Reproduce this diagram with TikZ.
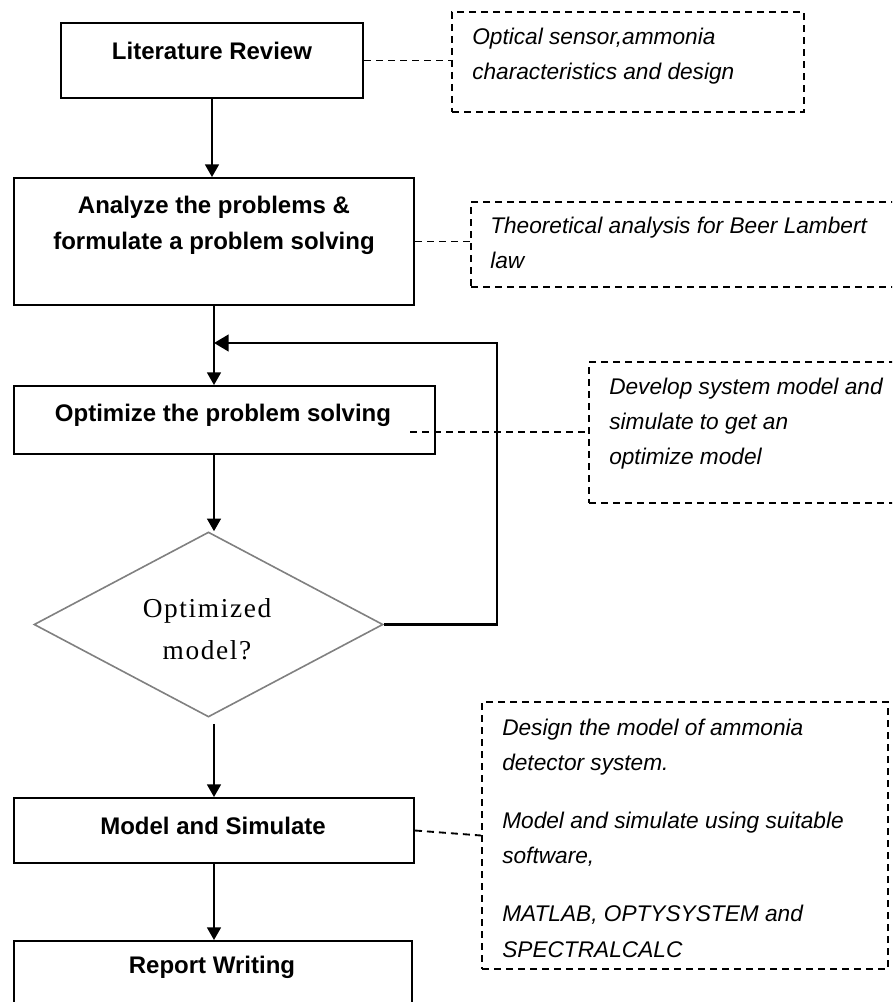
\documentclass[tikz,border=0pt]{standalone}
\usepackage{fontspec}
\setmainfont{Liberation Sans}
\newfontfamily\diafont{Liberation Serif}[LetterSpace=6]
\usetikzlibrary{arrows.meta,shapes.geometric}

\tikzset{
  stage/.style={draw, line width=1.5pt, inner sep=0pt},
  note/.style={draw, line width=1.4pt, dash pattern={on 5.25pt off 3.75pt}, inner sep=0pt},
  flow/.style={line width=1.2pt, -{Triangle[length=9.5pt,width=10.5pt]}},
  link/.style={line width=1.4pt, dash pattern={on 5.25pt off 3.75pt}},
  stagetext/.style={font=\fontsize{18}{27}\selectfont\bfseries, align=center},
  notetext/.style={font=\fontsize{17}{26.25}\selectfont\itshape, align=left, anchor=north west, inner sep=0pt},
}

\begin{document}
\begin{tikzpicture}[x=0.75pt,y=0.75pt,yscale=-1,xscale=1]
\path [use as bounding box, clip] (0,0) rectangle (892,1002);

%Shapes: stages
\draw (212,60.5) node (lit) [stage, minimum width=226.5pt, minimum height=56.25pt] {};
\draw (214,241.5) node (ana) [stage, minimum width=300pt, minimum height=95.25pt] {};
\draw (224.5,420) node (opt) [stage, minimum width=315.75pt, minimum height=51pt] {};
\draw (208.5,624.5) node (dec) [diamond, draw={rgb, 255:red, 128; green, 128; blue, 128}, line width=1.2pt, inner sep=0pt, minimum width=261.75pt, minimum height=138.75pt] {};
\draw (214,830.5) node (mod) [stage, minimum width=300pt, minimum height=48.75pt] {};
\draw (213,991) node (rep) [stage, minimum width=298.5pt, minimum height=75pt] {};

%Shapes: notes
\draw (628,62) node (n1) [note, minimum width=264pt, minimum height=75pt] {};
\draw (685.5,244.5) node (n2) [note, minimum width=321.75pt, minimum height=63.75pt] {};
\draw (744.5,432.5) node (n3) [note, minimum width=233.25pt, minimum height=105.75pt] {};
\draw (685,835.5) node (n4) [note, minimum width=304.5pt, minimum height=200.25pt] {};

%Straight Lines
\draw [flow] (lit.south) -- (lit.south |- ana.north);
\draw [flow] (ana.south) -- (ana.south |- opt.north);
\draw [flow] (ana.south |- opt.south) -- (ana.south |- dec.north);
\draw [flow, shorten <=4.5pt] (dec.south -| mod.north) -- (mod.north);
\draw [flow] (mod.south) -- (mod.south |- rep.north);
%Feedback
\coordinate (loop) at (497,343);
\draw [flow, line width=1.8pt, -{Triangle[length=11pt,width=12.5pt]}] (dec.east) -| (loop) -- (loop -| ana.south);

%Dashed Lines
\coordinate (optlink) at (410,432);
\draw [link] (lit.east) -- (lit.east -| n1.west);
\draw [link] (ana.east) -- (ana.east -| n2.west);
\draw [link] (optlink) -- (optlink -| n3.west);
\draw [link] (mod.east) -- (n4.west);

% Text Node
\draw (212,51) node (littext) [stagetext] {Literature Review};
% Text Node
\draw (214,225) node (anatext) [stagetext] {Analyze the problems \&\\formulate a problem solving};
% Text Node
\draw (223,415) node (opttext) [stagetext] {Optimize the problem solving};
% Text Node
\draw (207,629) node (dectext) [font=\diafont\fontsize{20.5}{31.5}\selectfont, align=center] {Optimized\\model?};
% Text Node
\draw (213,826) node (modtext) [stagetext] {Model and Simulate};
% Text Node
\draw (212,967) node (reptext) [stagetext] {Report Writing};

% Text Node
\draw (472,19.5) node (n1text) [notetext] {\strut Optical sensor,ammonia\\characteristics and design};
% Text Node
\draw (490,208.5) node (n2text) [notetext] {\strut Theoretical analysis for Beer Lambert\\law};
% Text Node
\draw (609,369.5) node (n3text) [notetext] {\strut Develop system model and\\simulate to get an\\optimize model};
% Text Node
\draw (502,710) node (n4text) [notetext, font=\fontsize{17}{26.5}\selectfont\itshape] {\strut Design the model of ammonia\\detector system.\\[17pt]Model and simulate using suitable\\software,\\[17pt]MATLAB, OPTYSYSTEM and\\SPECTRALCALC};

\end{tikzpicture}
\end{document}
